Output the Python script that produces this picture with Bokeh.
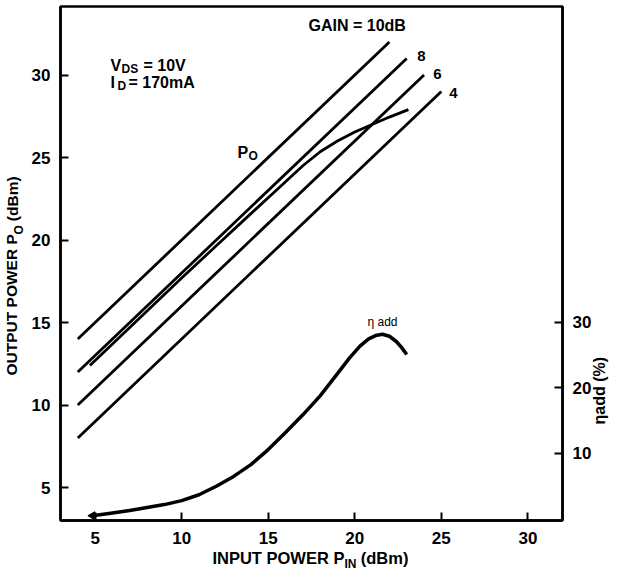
import numpy as np
from bokeh.plotting import figure
from bokeh.models import Range1d, LinearAxis, FixedTicker, Label
from bokeh.embed import file_html
from bokeh.resources import INLINE

# ---------------- data ----------------
# constant-gain reference lines (Pout = Pin + gain)
gain_db = [10, 8, 6, 4]
gain_labels = ["GAIN = 10dB", "8", "6", "4"]
gain_pin_start = [4, 4, 4, 4]
gain_pout_start = [14, 12, 10, 8]
gain_pin_end = [22, 23, 24, 25]
gain_pout_end = [32, 31, 30, 29]

# output power curve P_O (dBm) vs input power (dBm)
po_pin = [4.7, 6, 8, 10, 12, 14, 15.5, 17, 18, 19, 20, 21, 22, 23.1]
po_out = [12.4, 13.7, 15.7, 17.7, 19.65, 21.6, 23.05, 24.5, 25.35, 26.0, 26.55, 27.0, 27.45, 27.9]

# power-added efficiency (%) vs input power (dBm)
eta_pin = [4.85, 6, 7, 8, 9, 10, 11, 12, 13, 14, 15, 16, 17, 18, 19, 19.7, 20.3,
           20.8, 21.2, 21.6, 22.0, 22.4, 22.7, 23.0]
eta_pct = [0.5, 0.9, 1.3, 1.75, 2.2, 2.8, 3.7, 5.0, 6.5, 8.3, 10.6, 13.2, 15.9, 18.8, 22.2,
           24.6, 26.4, 27.5, 28.0, 28.2, 27.9, 27.1, 26.2, 25.1]

x_ticks = [5, 10, 15, 20, 25, 30]
y_ticks = [5, 10, 15, 20, 25, 30]
eta_ticks = [10, 20, 30]

# ---------------- figure ----------------
W, H = 621, 576
FL, FR, FT, FB = 60, 562, 6, 520       # frame edges in page pixels
X0, X1 = 3, 32
Y0, Y1 = 3, 3 + (FB - FT) / 16.5
E0 = -0.23
E1 = E0 + (FB - FT) / 6.55
p = figure(width=W, height=H, x_range=Range1d(X0, X1), y_range=Range1d(Y0, Y1),
           output_backend="svg", toolbar_location=None,
           min_border_left=FL, min_border_right=W - FR,
           min_border_top=FT, min_border_bottom=H - FB)
p.extra_y_ranges = {"eta": Range1d(E0, E1)}
p.grid.visible = False
p.background_fill_color = "white"
p.border_fill_color = "white"
p.outline_line_color = "black"
p.outline_line_width = 2.5

FONT = "Liberation Sans"

right_axis = LinearAxis(y_range_name="eta")
p.add_layout(right_axis, "right")

for ax, ticks in [(p.xaxis[0], x_ticks), (p.yaxis[0], y_ticks), (right_axis, eta_ticks)]:
    ax.ticker = FixedTicker(ticks=ticks)
    ax.axis_line_width = 2.5
    ax.axis_line_color = "black"
    ax.major_tick_in = 8
    ax.major_tick_out = 0
    ax.major_tick_line_width = 2
    ax.major_tick_line_color = "black"
    ax.minor_tick_line_color = None
    ax.major_label_text_font = FONT
    ax.major_label_text_font_style = "bold"
    ax.major_label_text_font_size = "17px"
    ax.major_label_text_color = "black"
    ax.major_label_standoff = 10
p.xaxis[0].major_label_standoff = 11

# ---------------- marks ----------------
p.segment(x0=gain_pin_start, y0=gain_pout_start, x1=gain_pin_end, y1=gain_pout_end,
          line_color="black", line_width=2.8)
p.line(po_pin, po_out, line_color="black", line_width=2.8, line_join="round")
p.line(eta_pin, eta_pct, y_range_name="eta", line_color="black", line_width=3.5,
       line_join="round")
p.scatter([eta_pin[0]], [eta_pct[0]], y_range_name="eta", marker="triangle",
          size=8, angle=np.pi / 2, color="black")


# ---------------- texts inside the frame ----------------
def lab(text, px, py, size, angle=0.0, align="left", baseline="alphabetic", bold=True):
    # screen units, measured from the frame's left / bottom edge
    p.add_layout(Label(x=px - FL, y=FB - py, x_units="screen", y_units="screen",
                       text=text, text_font=FONT,
                       text_font_size=f"{size}px",
                       text_font_style="bold" if bold else "normal",
                       angle=angle, text_align=align, text_baseline=baseline,
                       text_color="black"))


lab("V", 110, 65, 16)
lab("DS", 121, 68, 12)
lab("= 10V", 143, 65, 16)
lab("I", 110, 82, 16)
lab("D", 117, 85, 12)
lab("= 170mA", 128, 82, 16)
lab("P", 237, 152, 16)
lab("O", 248, 155, 12)

lab(gain_labels[0], 308, 25, 16)
lab(gain_labels[1], 421, 55, 15, align="center")
lab(gain_labels[2], 437, 73, 15, align="center")
lab(gain_labels[3], 453, 92, 15, align="center")

lab("η add", 367, 321, 12, bold=False)


# ---------------- axis titles (as label-only axes, to allow subscripts) ----------------
def px2x(px):
    return round(X0 + (px - FL) * (X1 - X0) / (FR - FL), 2)


def py2y(py):
    return round(Y0 + (FB - py) * (Y1 - Y0) / (FB - FT), 2)


def py2e(py):
    return round(E0 + (FB - py) * (E1 - E0) / (FB - FT), 2)


def title_axis(place, ticks, texts, size, standoff, orientation="horizontal", **kw):
    ax = LinearAxis(ticker=FixedTicker(ticks=ticks),
                    major_label_overrides=dict(zip(ticks, texts)), **kw)
    ax.axis_line_color = None
    ax.major_tick_line_color = None
    ax.minor_tick_line_color = None
    ax.major_tick_in = 0
    ax.major_tick_out = 0
    ax.major_label_text_font = FONT
    ax.major_label_text_font_style = "bold"
    ax.major_label_text_font_size = f"{size}px"
    ax.major_label_text_color = "black"
    ax.major_label_standoff = standoff
    ax.major_label_orientation = orientation
    p.add_layout(ax, place)
    return ax


# bottom: INPUT POWER P_IN (dBm)
xa, xb, xc = px2x(278), px2x(350), px2x(384)
title_axis("below", [xa, xc], ["INPUT POWER P", "(dBm)"], 16.5, 2)
title_axis("below", [xb], ["IN"], 12, -13)

# left: OUTPUT POWER P_O (dBm), reading upward
ya, yb, yc = py2y(304.4), py2y(229.2), py2y(198.3)
title_axis("left", [yb], ["O"], 12, 2, orientation="vertical")
title_axis("left", [ya, yc], ["OUTPUT POWER P", "(dBm)"], 15.5, -11, orientation="vertical")

# right: eta add (%), reading upward (label starts at its tick)
ye = py2e(424)
title_axis("right", [ye], ["ηadd (%)"], 16, 5, orientation=np.pi / 2, y_range_name="eta")

open("out.html", "w").write(file_html(p, INLINE))
